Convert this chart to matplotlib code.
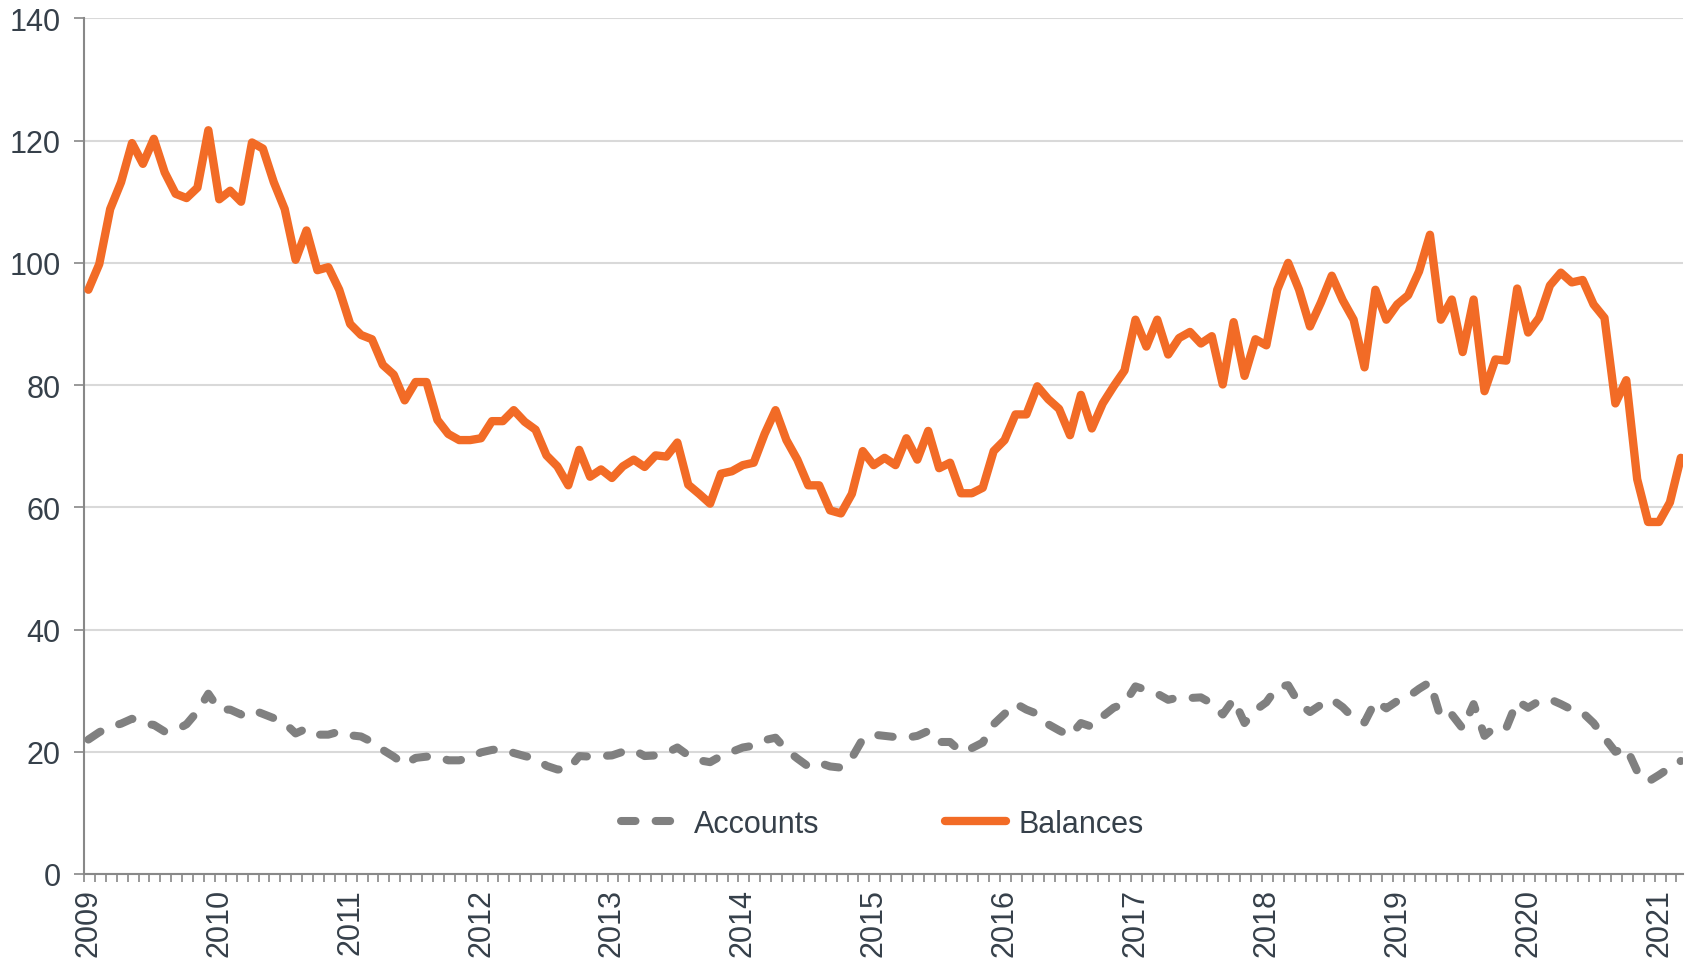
import matplotlib
matplotlib.use("Agg")
import matplotlib.pyplot as plt
import numpy as np

years = [str(y) for y in range(2009, 2022)]

balances = [95.6, 99.8, 108.8, 113.2, 119.6, 116.2, 120.3, 114.8, 111.3, 110.6, 112.3, 121.7,
            110.4, 111.8, 110.0, 119.7, 118.7, 113.2, 108.8, 100.5, 105.3, 98.8, 99.3, 95.6,
            90.0, 88.2, 87.5, 83.3, 81.7, 77.5, 80.5, 80.5, 74.3, 72.0, 71.0, 71.0,
            71.3, 74.1, 74.1, 75.9, 74.0, 72.7, 68.5, 66.7, 63.6, 69.4, 65.0, 66.2,
            64.8, 66.7, 67.8, 66.6, 68.5, 68.3, 70.6, 63.7, 62.2, 60.6, 65.5, 65.9,
            66.9, 67.3, 72.0, 75.9, 71.0, 67.8, 63.6, 63.6, 59.5, 59.0, 62.2, 69.2,
            66.9, 68.1, 66.9, 71.3, 67.8, 72.5, 66.4, 67.3, 62.3, 62.3, 63.2, 69.2,
            71.0, 75.2, 75.2, 79.8, 77.7, 76.1, 71.8, 78.4, 72.9, 77.0, 79.8, 82.4,
            90.7, 86.3, 90.7, 85.0, 87.7, 88.7, 86.8, 88.0, 80.1, 90.3, 81.5, 87.5,
            86.5, 95.6, 100.0, 95.6, 89.6, 93.5, 97.9, 93.9, 90.7, 82.9, 95.6, 90.7,
            93.2, 94.7, 98.6, 104.6, 90.7, 94.0, 85.4, 94.0, 79.0, 84.2, 84.0, 95.8,
            88.6, 91.0, 96.3, 98.4, 96.8, 97.2, 93.2, 91.0, 77.0, 80.8, 64.6, 57.6,
            57.6, 60.8, 68.1]

accounts = [22.0, 23.2, 24.1, 24.6, 25.4, 24.6, 24.4, 23.3, 23.5, 24.5, 26.6, 29.5,
            26.9, 26.9, 26.1, 26.9, 26.2, 25.5, 24.7, 23.0, 23.8, 22.8, 22.8, 23.3,
            22.7, 22.5, 21.6, 20.3, 19.2, 17.9, 19.0, 19.2, 19.2, 18.6, 18.6, 19.0,
            19.9, 20.3, 20.5, 19.8, 19.3, 18.9, 17.7, 17.1, 17.1, 19.3, 19.2, 19.3,
            19.4, 20.0, 20.3, 19.3, 19.4, 19.8, 20.7, 19.4, 18.6, 18.3, 19.3, 20.0,
            20.7, 21.0, 21.9, 22.3, 20.3, 18.9, 17.6, 18.2, 17.6, 17.4, 19.0, 22.1,
            22.8, 22.6, 22.4, 22.3, 22.6, 23.4, 21.6, 21.6, 20.0, 20.6, 21.5, 24.5,
            26.2, 27.9, 26.9, 26.2, 24.5, 23.5, 22.6, 24.7, 24.1, 25.8, 27.2, 27.9,
            30.7, 30.1, 29.5, 28.5, 28.9, 28.8, 28.9, 27.9, 26.1, 28.6, 24.7, 26.8,
            28.1, 30.6, 30.9, 27.9, 26.5, 27.7, 28.6, 27.3, 25.5, 24.8, 28.3, 27.1,
            28.3, 29.0, 30.3, 31.4, 25.5, 26.1, 23.8, 27.8, 22.6, 24.1, 23.9, 28.3,
            27.2, 28.3, 28.6, 27.8, 26.9, 26.4, 24.7, 22.3, 20.0, 20.7, 16.8, 15.1,
            16.2, 17.4, 18.5]

TXT = "#36404a"
AX = "#888888"
ORANGE = "#F26B26"
GREY = "#808080"
FS = 22

plt.rcParams['font.family'] = ['Liberation Sans', 'DejaVu Sans']

fig = plt.figure(figsize=(16.88, 9.62), dpi=100)
ax = fig.add_axes([84/1688, 1-875/962, (1683-84)/1688, (875-19.4)/962])

x = np.arange(len(balances))
ax.plot(x, accounts, color=GREY, lw=5.8, dashes=(1.8, 2.5), dash_capstyle='round',
        solid_capstyle='round', label='Accounts', zorder=3)
ax.plot(x, balances, color=ORANGE, lw=6.0, solid_capstyle='round', solid_joinstyle='round',
        label='Balances', zorder=4)

ax.set_ylim(0, 140)
ax.set_xlim(-0.4, 146.2)
ax.set_yticks(np.arange(0, 141, 20))
ax.yaxis.grid(True, color='#d9d9d9', lw=1.5)
ax.set_axisbelow(True)

ax.set_xticks([12*i for i in range(len(years))])
ax.set_xticklabels(years, rotation=90)
ax.set_xticks(np.arange(0, 147) - 0.4, minor=True)
ax.tick_params(axis='x', which='major', length=0, pad=10, labelsize=FS, labelcolor=TXT)
ax.tick_params(axis='x', which='minor', length=6, width=1.2, color=AX)
ax.tick_params(axis='y', length=7, width=1.2, color=AX, labelsize=FS, labelcolor=TXT, pad=10)

for s in ['top', 'right']:
    ax.spines[s].set_visible(False)
for s in ['left', 'bottom']:
    ax.spines[s].set_color(AX)
    ax.spines[s].set_linewidth(1.5)

leg = ax.legend(loc='center', ncol=2, frameon=False,
                fontsize=FS, handlelength=2.0, handletextpad=0.4, columnspacing=4.1,
                bbox_to_anchor=(882/1688, 1-825/962), bbox_transform=fig.transFigure)
for t in leg.get_texts():
    t.set_color(TXT)

fig.savefig("out.png", dpi=100)
